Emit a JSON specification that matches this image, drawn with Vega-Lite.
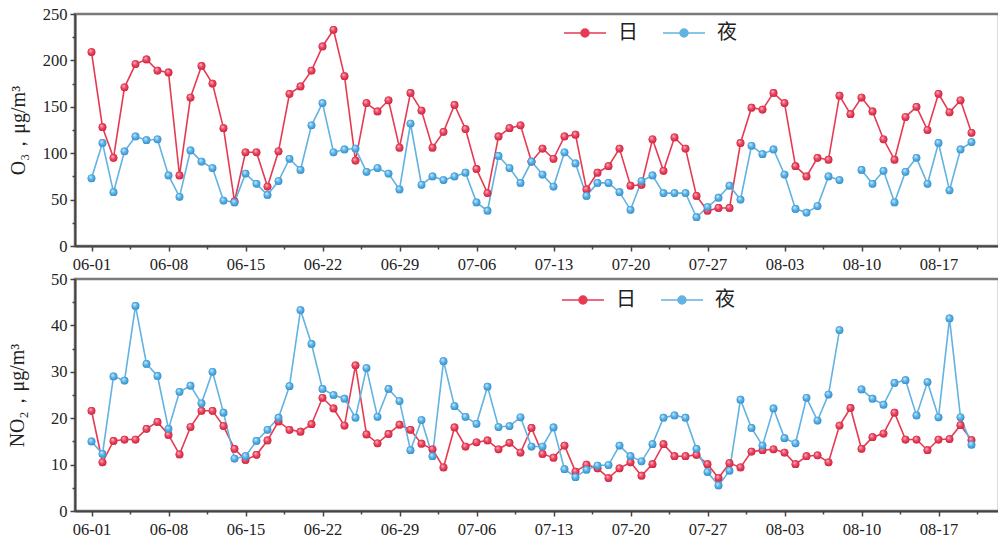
{
"$schema": "https://vega.github.io/schema/vega-lite/v6.json",
"padding": {"left": 6, "top": 4, "right": 0, "bottom": 2},
"bounds": "flush",
"spacing": 33,
"background": "white",
"resolve": {"scale": {"fill": "independent", "stroke": "independent"}},
"config": {
  "view": {"stroke": "#7a7a7a", "strokeWidth": 2.5},
  "font": "Liberation Serif",
  "axis": {"labelFont": "Liberation Serif", "labelFontSize": 16.5, "labelColor": "#222", "titleFont": "Liberation Serif", "titleFontSize": 20, "titleColor": "#222", "titleFontWeight": "normal", "domainColor": "#444", "domainWidth": 2, "tickColor": "#444", "tickWidth": 1.5, "grid": false}
},
"datasets": {"t": [
{"d":"2023-06-01","s":"日","o":209,"n":21.6},{"d":"2023-06-02","s":"日","o":128,"n":10.5},{"d":"2023-06-03","s":"日","o":95,"n":15.1},{"d":"2023-06-04","s":"日","o":171,"n":15.4},{"d":"2023-06-05","s":"日","o":196,"n":15.4},{"d":"2023-06-06","s":"日","o":201,"n":17.7},{"d":"2023-06-07","s":"日","o":189,"n":19.2},{"d":"2023-06-08","s":"日","o":187,"n":16.4},{"d":"2023-06-09","s":"日","o":76,"n":12.2},{"d":"2023-06-10","s":"日","o":160,"n":18.1},
{"d":"2023-06-11","s":"日","o":194,"n":21.6},{"d":"2023-06-12","s":"日","o":175,"n":21.6},{"d":"2023-06-13","s":"日","o":127,"n":18.3},{"d":"2023-06-14","s":"日","o":48,"n":13.4},{"d":"2023-06-15","s":"日","o":101,"n":11.0},{"d":"2023-06-16","s":"日","o":101,"n":12.1},{"d":"2023-06-17","s":"日","o":64,"n":15.2},{"d":"2023-06-18","s":"日","o":102,"n":19.3},{"d":"2023-06-19","s":"日","o":164,"n":17.5},{"d":"2023-06-20","s":"日","o":172,"n":17.1},
{"d":"2023-06-21","s":"日","o":189,"n":18.7},{"d":"2023-06-22","s":"日","o":215,"n":24.4},{"d":"2023-06-23","s":"日","o":233,"n":22.1},{"d":"2023-06-24","s":"日","o":183,"n":18.4},{"d":"2023-06-25","s":"日","o":92,"n":31.4},{"d":"2023-06-26","s":"日","o":154,"n":16.5},{"d":"2023-06-27","s":"日","o":145,"n":14.6},{"d":"2023-06-28","s":"日","o":157,"n":16.6},{"d":"2023-06-29","s":"日","o":106,"n":18.6},{"d":"2023-06-30","s":"日","o":165,"n":17.5},
{"d":"2023-07-01","s":"日","o":146,"n":14.5},{"d":"2023-07-02","s":"日","o":106,"n":13.3},{"d":"2023-07-03","s":"日","o":123,"n":9.4},{"d":"2023-07-04","s":"日","o":152,"n":18.0},{"d":"2023-07-05","s":"日","o":126,"n":13.9},{"d":"2023-07-06","s":"日","o":83,"n":14.8},{"d":"2023-07-07","s":"日","o":57,"n":15.2},{"d":"2023-07-08","s":"日","o":118,"n":13.3},{"d":"2023-07-09","s":"日","o":127,"n":14.7},{"d":"2023-07-10","s":"日","o":130,"n":12.6},
{"d":"2023-07-11","s":"日","o":91,"n":17.9},{"d":"2023-07-12","s":"日","o":105,"n":12.3},{"d":"2023-07-13","s":"日","o":94,"n":11.5},{"d":"2023-07-14","s":"日","o":118,"n":14.1},{"d":"2023-07-15","s":"日","o":120,"n":8.5},{"d":"2023-07-16","s":"日","o":61,"n":10.0},{"d":"2023-07-17","s":"日","o":79,"n":9.2},{"d":"2023-07-18","s":"日","o":86,"n":7.1},{"d":"2023-07-19","s":"日","o":105,"n":9.2},{"d":"2023-07-20","s":"日","o":65,"n":10.5},
{"d":"2023-07-21","s":"日","o":66,"n":7.6},{"d":"2023-07-22","s":"日","o":115,"n":10.1},{"d":"2023-07-23","s":"日","o":81,"n":14.4},{"d":"2023-07-24","s":"日","o":117,"n":11.8},{"d":"2023-07-25","s":"日","o":105,"n":11.8},{"d":"2023-07-26","s":"日","o":54,"n":12.1},{"d":"2023-07-27","s":"日","o":38,"n":10.1},{"d":"2023-07-28","s":"日","o":41,"n":7.1},{"d":"2023-07-29","s":"日","o":41,"n":10.3},{"d":"2023-07-30","s":"日","o":111,"n":9.4},
{"d":"2023-07-31","s":"日","o":149,"n":12.8},{"d":"2023-08-01","s":"日","o":147,"n":13.1},{"d":"2023-08-02","s":"日","o":165,"n":13.3},{"d":"2023-08-03","s":"日","o":154,"n":12.6},{"d":"2023-08-04","s":"日","o":86,"n":10.1},{"d":"2023-08-05","s":"日","o":75,"n":11.8},{"d":"2023-08-06","s":"日","o":95,"n":12.0},{"d":"2023-08-07","s":"日","o":93,"n":10.5},{"d":"2023-08-08","s":"日","o":162,"n":18.4},{"d":"2023-08-09","s":"日","o":142,"n":22.2},
{"d":"2023-08-10","s":"日","o":160,"n":13.4},{"d":"2023-08-11","s":"日","o":145,"n":15.9},{"d":"2023-08-12","s":"日","o":115,"n":16.7},{"d":"2023-08-13","s":"日","o":93,"n":21.2},{"d":"2023-08-14","s":"日","o":139,"n":15.4},{"d":"2023-08-15","s":"日","o":150,"n":15.4},{"d":"2023-08-16","s":"日","o":125,"n":13.1},{"d":"2023-08-17","s":"日","o":164,"n":15.4},{"d":"2023-08-18","s":"日","o":144,"n":15.5},{"d":"2023-08-19","s":"日","o":157,"n":18.5},{"d":"2023-08-20","s":"日","o":122,"n":15.3},
{"d":"2023-06-01","s":"夜","o":73,"n":15.0},{"d":"2023-06-02","s":"夜","o":111,"n":12.3},{"d":"2023-06-03","s":"夜","o":58,"n":29.0},{"d":"2023-06-04","s":"夜","o":102,"n":28.1},{"d":"2023-06-05","s":"夜","o":118,"n":44.2},{"d":"2023-06-06","s":"夜","o":114,"n":31.7},{"d":"2023-06-07","s":"夜","o":115,"n":29.1},{"d":"2023-06-08","s":"夜","o":76,"n":17.7},{"d":"2023-06-09","s":"夜","o":53,"n":25.7},{"d":"2023-06-10","s":"夜","o":103,"n":27.0},
{"d":"2023-06-11","s":"夜","o":91,"n":23.2},{"d":"2023-06-12","s":"夜","o":84,"n":30.0},{"d":"2023-06-13","s":"夜","o":49,"n":21.2},{"d":"2023-06-14","s":"夜","o":47,"n":11.3},{"d":"2023-06-15","s":"夜","o":78,"n":11.8},{"d":"2023-06-16","s":"夜","o":67,"n":15.1},{"d":"2023-06-17","s":"夜","o":55,"n":17.5},{"d":"2023-06-18","s":"夜","o":70,"n":20.1},{"d":"2023-06-19","s":"夜","o":94,"n":26.9},{"d":"2023-06-20","s":"夜","o":82,"n":43.3},
{"d":"2023-06-21","s":"夜","o":130,"n":36.0},{"d":"2023-06-22","s":"夜","o":154,"n":26.3},{"d":"2023-06-23","s":"夜","o":101,"n":25.0},{"d":"2023-06-24","s":"夜","o":104,"n":24.2},{"d":"2023-06-25","s":"夜","o":105,"n":20.1},{"d":"2023-06-26","s":"夜","o":80,"n":30.8},{"d":"2023-06-27","s":"夜","o":84,"n":20.3},{"d":"2023-06-28","s":"夜","o":78,"n":26.3},{"d":"2023-06-29","s":"夜","o":61,"n":23.7},{"d":"2023-06-30","s":"夜","o":132,"n":13.1},
{"d":"2023-07-01","s":"夜","o":66,"n":19.6},{"d":"2023-07-02","s":"夜","o":75,"n":11.8},{"d":"2023-07-03","s":"夜","o":71,"n":32.3},{"d":"2023-07-04","s":"夜","o":75,"n":22.6},{"d":"2023-07-05","s":"夜","o":79,"n":20.3},{"d":"2023-07-06","s":"夜","o":47,"n":18.8},{"d":"2023-07-07","s":"夜","o":38,"n":26.8},{"d":"2023-07-08","s":"夜","o":97,"n":18.1},{"d":"2023-07-09","s":"夜","o":84,"n":18.3},{"d":"2023-07-10","s":"夜","o":68,"n":20.2},
{"d":"2023-07-11","s":"夜","o":91,"n":13.9},{"d":"2023-07-12","s":"夜","o":77,"n":13.9},{"d":"2023-07-13","s":"夜","o":64,"n":18.0},{"d":"2023-07-14","s":"夜","o":101,"n":9.0},{"d":"2023-07-15","s":"夜","o":89,"n":7.3},{"d":"2023-07-16","s":"夜","o":54,"n":8.9},{"d":"2023-07-17","s":"夜","o":68,"n":9.8},{"d":"2023-07-18","s":"夜","o":68,"n":9.9},{"d":"2023-07-19","s":"夜","o":58,"n":14.1},{"d":"2023-07-20","s":"夜","o":39,"n":11.8},
{"d":"2023-07-21","s":"夜","o":70,"n":10.7},{"d":"2023-07-22","s":"夜","o":76,"n":14.4},{"d":"2023-07-23","s":"夜","o":57,"n":20.1},{"d":"2023-07-24","s":"夜","o":57,"n":20.6},{"d":"2023-07-25","s":"夜","o":57,"n":20.1},{"d":"2023-07-26","s":"夜","o":31,"n":13.4},{"d":"2023-07-27","s":"夜","o":42,"n":8.4},{"d":"2023-07-28","s":"夜","o":52,"n":5.5},{"d":"2023-07-29","s":"夜","o":65,"n":8.7},{"d":"2023-07-30","s":"夜","o":50,"n":24.0},
{"d":"2023-07-31","s":"夜","o":108,"n":17.9},{"d":"2023-08-01","s":"夜","o":99,"n":14.1},{"d":"2023-08-02","s":"夜","o":104,"n":22.1},{"d":"2023-08-03","s":"夜","o":77,"n":15.7},{"d":"2023-08-04","s":"夜","o":40,"n":14.6},{"d":"2023-08-05","s":"夜","o":36,"n":24.4},{"d":"2023-08-06","s":"夜","o":43,"n":19.5},{"d":"2023-08-07","s":"夜","o":75,"n":25.1},{"d":"2023-08-08","s":"夜","o":71,"n":39.0},{"d":"2023-08-09","s":"夜","o":null,"n":null},
{"d":"2023-08-10","s":"夜","o":82,"n":26.2},{"d":"2023-08-11","s":"夜","o":67,"n":24.2},{"d":"2023-08-12","s":"夜","o":81,"n":22.9},{"d":"2023-08-13","s":"夜","o":47,"n":27.6},{"d":"2023-08-14","s":"夜","o":80,"n":28.2},{"d":"2023-08-15","s":"夜","o":95,"n":20.6},{"d":"2023-08-16","s":"夜","o":67,"n":27.8},{"d":"2023-08-17","s":"夜","o":111,"n":20.2},{"d":"2023-08-18","s":"夜","o":60,"n":41.5},{"d":"2023-08-19","s":"夜","o":104,"n":20.2},{"d":"2023-08-20","s":"夜","o":112,"n":14.3}
]},
"data": {"name": "t"},
"vconcat": [
{
  "width": 924, "height": 232,
  "encoding": {
    "x": {"field": "d", "type": "temporal",
      "scale": {"type": "utc", "domain": [{"year":2023,"month":5,"date":30,"hours":12,"utc":true},{"year":2023,"month":8,"date":22,"hours":12,"utc":true}]},
      "axis": {"title": null, "format": "%m-%d", "labelPadding": 5,
        "values": [{"year":2023,"month":6,"date":1,"utc":true},{"year":2023,"month":6,"date":4,"hours":12,"utc":true},{"year":2023,"month":6,"date":8,"utc":true},{"year":2023,"month":6,"date":11,"hours":12,"utc":true},{"year":2023,"month":6,"date":15,"utc":true},{"year":2023,"month":6,"date":18,"hours":12,"utc":true},{"year":2023,"month":6,"date":22,"utc":true},{"year":2023,"month":6,"date":25,"hours":12,"utc":true},{"year":2023,"month":6,"date":29,"utc":true},{"year":2023,"month":7,"date":2,"hours":12,"utc":true},{"year":2023,"month":7,"date":6,"utc":true},{"year":2023,"month":7,"date":9,"hours":12,"utc":true},{"year":2023,"month":7,"date":13,"utc":true},{"year":2023,"month":7,"date":16,"hours":12,"utc":true},{"year":2023,"month":7,"date":20,"utc":true},{"year":2023,"month":7,"date":23,"hours":12,"utc":true},{"year":2023,"month":7,"date":27,"utc":true},{"year":2023,"month":7,"date":30,"hours":12,"utc":true},{"year":2023,"month":8,"date":3,"utc":true},{"year":2023,"month":8,"date":6,"hours":12,"utc":true},{"year":2023,"month":8,"date":10,"utc":true},{"year":2023,"month":8,"date":13,"hours":12,"utc":true},{"year":2023,"month":8,"date":17,"utc":true},{"year":2023,"month":8,"date":20,"hours":12,"utc":true}],
        "labelExpr": "utchours(datum.value) == 12 ? '' : datum.label",
        "tickSize": {"condition": {"test": "utchours(datum.value) == 12", "value": 3}, "value": 5}}},
    "y": {"field": "o", "type": "quantitative",
      "scale": {"domain": [0, 250], "nice": false},
      "axis": {"title": "O₃，μg/m³", "titlePadding": 14, "labelPadding": 3,
        "values": [0,25,50,75,100,125,150,175,200,225,250],
        "labelExpr": "datum.value % 50 == 0 ? datum.label : ''",
        "tickSize": {"condition": {"test": "datum.value % 50 != 0", "value": 3}, "value": 5}}}
  },
  "layer": [
    {"mark": {"type": "line", "strokeWidth": 1.6, "invalid": "break-paths-show-domains"},
     "encoding": {"stroke": {"field": "s", "type": "nominal", "scale": {"domain": ["日","夜"], "range": ["#e63a53","#62b2e2"]},
       "legend": {"orient": "none", "legendX": 488, "legendY": -3, "direction": "horizontal", "title": null, "padding": 0,
         "symbolType": "M-1,0L-0.19,0A0.19,0.19,0,1,1,0.19,0A0.19,0.19,0,1,1,-0.19,0M0.19,0L1,0", "symbolSize": 1764, "symbolStrokeWidth": 1.5, "symbolOpacity": 1,
         "labelFont": "Noto Sans CJK SC", "labelFontSize": 20, "labelColor": "#222", "labelOffset": 11, "columnPadding": 22}}}},
    {"mark": {"type": "point", "filled": true, "size": 60, "opacity": 1},
     "encoding": {"fill": {"field": "s", "type": "nominal", "scale": {"domain": ["日","夜"], "range": ["#e63a53","#62b2e2"]},
       "legend": {"orient": "none", "legendX": 488, "legendY": -3, "direction": "horizontal", "title": null, "padding": 0,
         "symbolType": "M-1,0L-0.19,0A0.19,0.19,0,1,1,0.19,0A0.19,0.19,0,1,1,-0.19,0M0.19,0L1,0", "symbolSize": 1764, "symbolStrokeWidth": 1.5, "symbolOpacity": 1,
         "labelFont": "Noto Sans CJK SC", "labelFontSize": 20, "labelColor": "#222", "labelOffset": 11, "columnPadding": 22}}}},
    {"transform": [{"filter": "datum.s === '日'"}],
     "mark": {"type": "point", "filled": true, "size": 60, "opacity": 1,
       "fill": {"gradient": "radial", "x1": 0.35, "y1": 0.3, "r1": 0, "x2": 0.5, "y2": 0.5, "r2": 0.6, "stops": [{"offset": 0, "color": "#ffc9d0"}, {"offset": 0.45, "color": "#ec4a64"}, {"offset": 1, "color": "#c41e3a"}]}}},
    {"transform": [{"filter": "datum.s === '夜'"}],
     "mark": {"type": "point", "filled": true, "size": 60, "opacity": 1,
       "fill": {"gradient": "radial", "x1": 0.35, "y1": 0.3, "r1": 0, "x2": 0.5, "y2": 0.5, "r2": 0.6, "stops": [{"offset": 0, "color": "#dff3ff"}, {"offset": 0.45, "color": "#5db6ea"}, {"offset": 1, "color": "#2f86c0"}]}}}
  ]
},
{
  "width": 924, "height": 232,
  "encoding": {
    "x": {"field": "d", "type": "temporal",
      "scale": {"type": "utc", "domain": [{"year":2023,"month":5,"date":30,"hours":12,"utc":true},{"year":2023,"month":8,"date":22,"hours":12,"utc":true}]},
      "axis": {"title": null, "format": "%m-%d", "labelPadding": 5,
        "values": [{"year":2023,"month":6,"date":1,"utc":true},{"year":2023,"month":6,"date":4,"hours":12,"utc":true},{"year":2023,"month":6,"date":8,"utc":true},{"year":2023,"month":6,"date":11,"hours":12,"utc":true},{"year":2023,"month":6,"date":15,"utc":true},{"year":2023,"month":6,"date":18,"hours":12,"utc":true},{"year":2023,"month":6,"date":22,"utc":true},{"year":2023,"month":6,"date":25,"hours":12,"utc":true},{"year":2023,"month":6,"date":29,"utc":true},{"year":2023,"month":7,"date":2,"hours":12,"utc":true},{"year":2023,"month":7,"date":6,"utc":true},{"year":2023,"month":7,"date":9,"hours":12,"utc":true},{"year":2023,"month":7,"date":13,"utc":true},{"year":2023,"month":7,"date":16,"hours":12,"utc":true},{"year":2023,"month":7,"date":20,"utc":true},{"year":2023,"month":7,"date":23,"hours":12,"utc":true},{"year":2023,"month":7,"date":27,"utc":true},{"year":2023,"month":7,"date":30,"hours":12,"utc":true},{"year":2023,"month":8,"date":3,"utc":true},{"year":2023,"month":8,"date":6,"hours":12,"utc":true},{"year":2023,"month":8,"date":10,"utc":true},{"year":2023,"month":8,"date":13,"hours":12,"utc":true},{"year":2023,"month":8,"date":17,"utc":true},{"year":2023,"month":8,"date":20,"hours":12,"utc":true}],
        "labelExpr": "utchours(datum.value) == 12 ? '' : datum.label",
        "tickSize": {"condition": {"test": "utchours(datum.value) == 12", "value": 3}, "value": 5}}},
    "y": {"field": "n", "type": "quantitative",
      "scale": {"domain": [0, 50], "nice": false},
      "axis": {"title": "NO₂，μg/m³", "titlePadding": 23, "labelPadding": 3,
        "values": [0,5,10,15,20,25,30,35,40,45,50],
        "labelExpr": "datum.value % 10 == 0 ? datum.label : ''",
        "tickSize": {"condition": {"test": "datum.value % 10 != 0", "value": 3}, "value": 5}}}
  },
  "layer": [
    {"mark": {"type": "line", "strokeWidth": 1.6, "invalid": "break-paths-show-domains"},
     "encoding": {"stroke": {"field": "s", "type": "nominal", "scale": {"domain": ["日","夜"], "range": ["#e63a53","#62b2e2"]},
       "legend": {"orient": "none", "legendX": 486, "legendY": -1, "direction": "horizontal", "title": null, "padding": 0,
         "symbolType": "M-1,0L-0.19,0A0.19,0.19,0,1,1,0.19,0A0.19,0.19,0,1,1,-0.19,0M0.19,0L1,0", "symbolSize": 1764, "symbolStrokeWidth": 1.5, "symbolOpacity": 1,
         "labelFont": "Noto Sans CJK SC", "labelFontSize": 20, "labelColor": "#222", "labelOffset": 11, "columnPadding": 22}}}},
    {"mark": {"type": "point", "filled": true, "size": 60, "opacity": 1},
     "encoding": {"fill": {"field": "s", "type": "nominal", "scale": {"domain": ["日","夜"], "range": ["#e63a53","#62b2e2"]},
       "legend": {"orient": "none", "legendX": 486, "legendY": -1, "direction": "horizontal", "title": null, "padding": 0,
         "symbolType": "M-1,0L-0.19,0A0.19,0.19,0,1,1,0.19,0A0.19,0.19,0,1,1,-0.19,0M0.19,0L1,0", "symbolSize": 1764, "symbolStrokeWidth": 1.5, "symbolOpacity": 1,
         "labelFont": "Noto Sans CJK SC", "labelFontSize": 20, "labelColor": "#222", "labelOffset": 11, "columnPadding": 22}}}},
    {"transform": [{"filter": "datum.s === '日'"}],
     "mark": {"type": "point", "filled": true, "size": 60, "opacity": 1,
       "fill": {"gradient": "radial", "x1": 0.35, "y1": 0.3, "r1": 0, "x2": 0.5, "y2": 0.5, "r2": 0.6, "stops": [{"offset": 0, "color": "#ffc9d0"}, {"offset": 0.45, "color": "#ec4a64"}, {"offset": 1, "color": "#c41e3a"}]}}},
    {"transform": [{"filter": "datum.s === '夜'"}],
     "mark": {"type": "point", "filled": true, "size": 60, "opacity": 1,
       "fill": {"gradient": "radial", "x1": 0.35, "y1": 0.3, "r1": 0, "x2": 0.5, "y2": 0.5, "r2": 0.6, "stops": [{"offset": 0, "color": "#dff3ff"}, {"offset": 0.45, "color": "#5db6ea"}, {"offset": 1, "color": "#2f86c0"}]}}}
  ]
}
]
}
